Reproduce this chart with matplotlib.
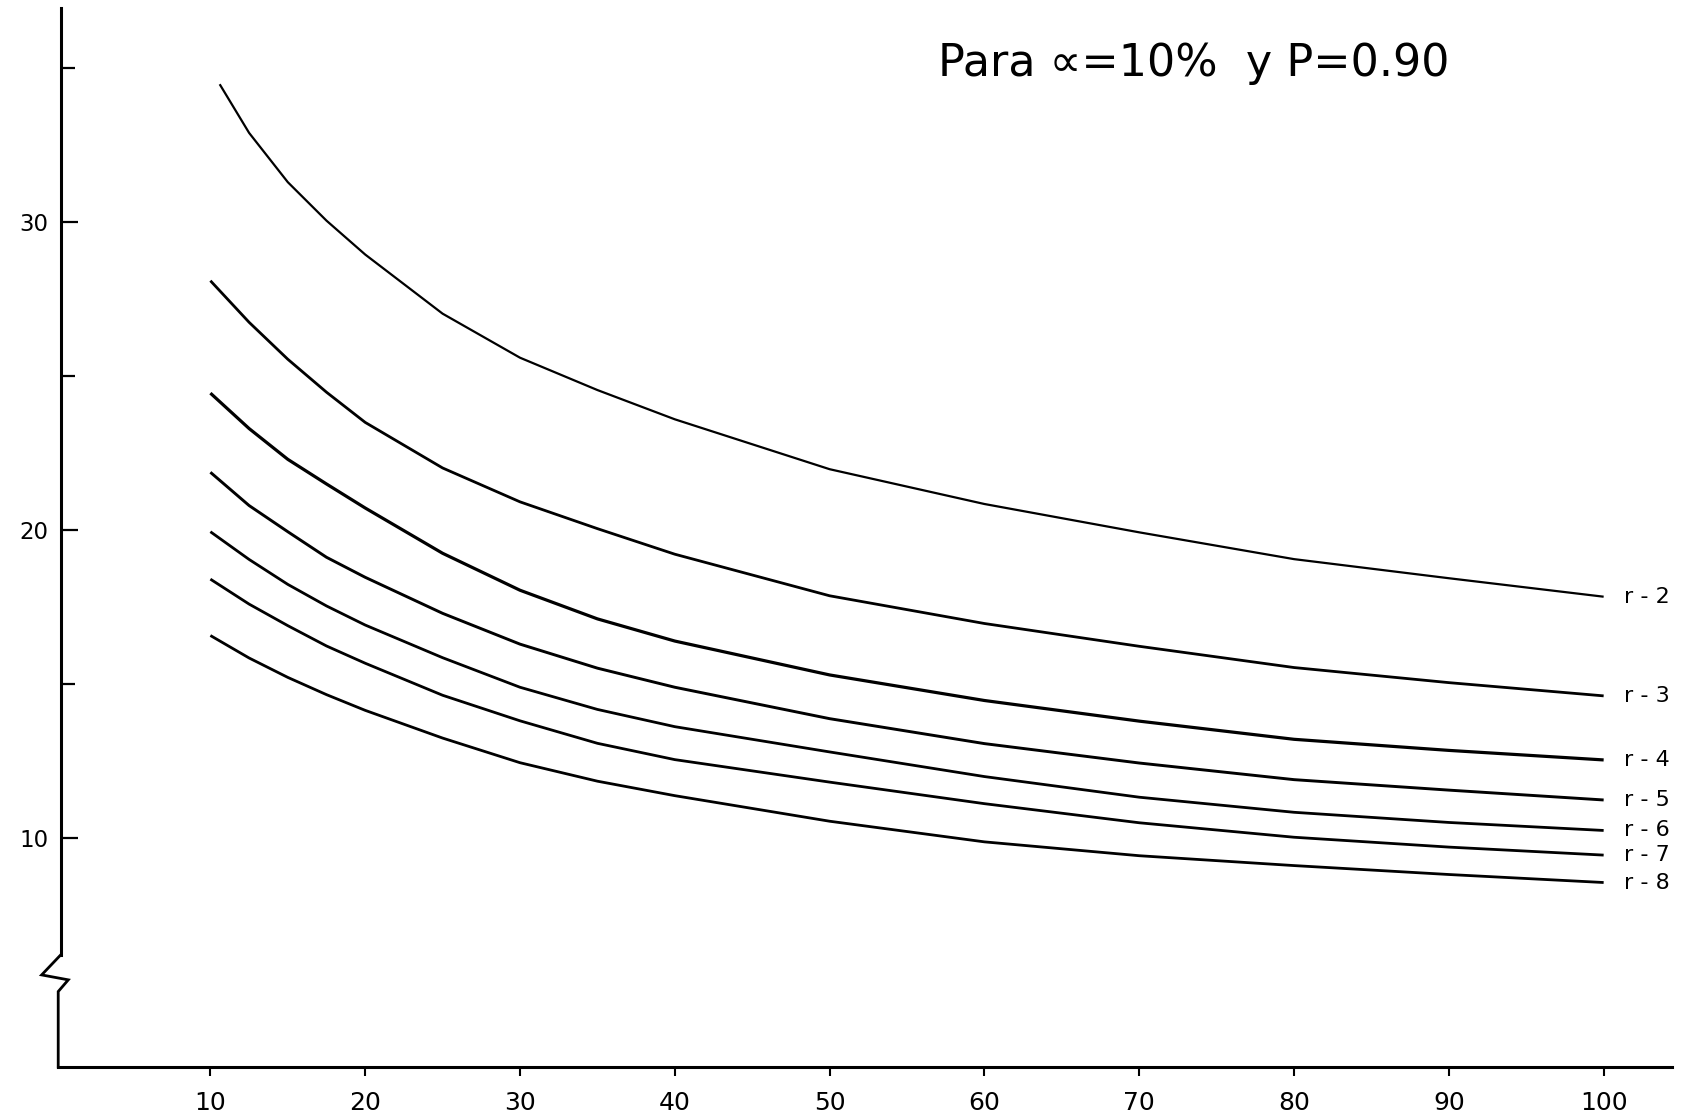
import matplotlib
matplotlib.use("Agg")
import matplotlib.pyplot as plt

# sample size n read along the x axis
n_values = [10, 12.5, 15, 17.5, 20, 25, 30, 35, 40, 50, 60, 70, 80, 90, 100]
# the r = 2 curve starts a little to the right of n = 10
r2_n_values = [10.6, 12.5, 15, 17.5, 20, 25, 30, 35, 40, 50, 60, 70, 80, 90, 100]

# curve values, one list per r
r2_values = [34.48, 32.90, 31.30, 30.05, 28.95, 27.03, 25.60, 24.55, 23.60, 21.98, 20.85, 19.93, 19.06, 18.44, 17.84]
r3_values = [28.10, 26.75, 25.55, 24.48, 23.50, 22.02, 20.92, 20.05, 19.22, 17.87, 16.97, 16.23, 15.54, 15.05, 14.62]
r4_values = [24.45, 23.30, 22.30, 21.50, 20.72, 19.25, 18.05, 17.12, 16.40, 15.30, 14.47, 13.80, 13.21, 12.85, 12.54]
r5_values = [21.88, 20.80, 19.95, 19.12, 18.47, 17.30, 16.30, 15.52, 14.90, 13.88, 13.07, 12.44, 11.90, 11.56, 11.24]
r6_values = [19.95, 19.05, 18.24, 17.54, 16.92, 15.86, 14.90, 14.18, 13.62, 12.80, 12.00, 11.33, 10.84, 10.51, 10.25]
r7_values = [18.41, 17.60, 16.90, 16.24, 15.68, 14.64, 13.81, 13.08, 12.55, 11.82, 11.12, 10.50, 10.03, 9.71, 9.45]
r8_values = [16.58, 15.85, 15.22, 14.66, 14.15, 13.25, 12.45, 11.85, 11.38, 10.55, 9.88, 9.43, 9.11, 8.82, 8.56]

curve_labels = ["r - 2", "r - 3", "r - 4", "r - 5", "r - 6", "r - 7", "r - 8"]

x_ticks = [10, 20, 30, 40, 50, 60, 70, 80, 90, 100]
y_ticks = [10, 20, 30]
y_minor_ticks = [15, 25, 35]

title_text = "Para \u221d=10%  y P=0.90"

# define the plot parameters
plt.rc('font', family='DejaVu Sans')
plt.rc('axes', linewidth=2.2)

fig = plt.figure(figsize=(16.83, 11.19), dpi=100)
ax = fig.add_axes([0.02383, 0.04647, 0.97041, 0.94763])
ax.set_xlim(-1, 104.5)
ax.set_ylim(2.57, 37.0)

# draw the curves and their labels at the right end
curves = [(r2_n_values, r2_values), (n_values, r3_values), (n_values, r4_values),
          (n_values, r5_values), (n_values, r6_values), (n_values, r7_values),
          (n_values, r8_values)]
line_widths = [1.6, 2.0, 2.3, 2.1, 2.0, 2.0, 2.0]

for (x, y), label, lw in zip(curves, curve_labels, line_widths):
    ax.plot(x, y, color="black", linewidth=lw, solid_capstyle="butt", solid_joinstyle="round")
    ax.text(x[-1] + 1.3, y[-1], label, fontsize=16, ha="left", va="center")

# axes: only left and bottom, with a break in the y axis
for side in ["top", "right"]:
    ax.spines[side].set_visible(False)
ax.spines["left"].set_position(("data", 0.33))
ax.spines["left"].set_bounds(6.21, 36.94)
ax.spines["bottom"].set_bounds(0.17, 104.4)

ax.plot([0.33, -0.9, 0.82, 0.17, 0.17], [6.21, 5.56, 5.40, 5.02, 2.57],
        color="black", linewidth=2.0, clip_on=False, solid_joinstyle="miter")

# ticks
ax.set_xticks(x_ticks)
ax.set_xticklabels([str(t) for t in x_ticks])
ax.tick_params(axis="x", direction="out", length=6.5, width=1.5, pad=11, labelsize=18)

ax.set_yticks(y_ticks)
ax.set_yticklabels([str(t) for t in y_ticks])
ax.set_yticks(y_minor_ticks, minor=True)
ax.tick_params(axis="y", which="major", direction="in", length=12, width=1.6, pad=9, labelsize=16.5)
ax.tick_params(axis="y", which="minor", direction="in", length=10, width=1.6)

# title text in the top right corner
ax.text(73.5, 35.14, title_text, fontsize=32, ha="center", va="center")

fig.savefig("out.png", dpi=100)
